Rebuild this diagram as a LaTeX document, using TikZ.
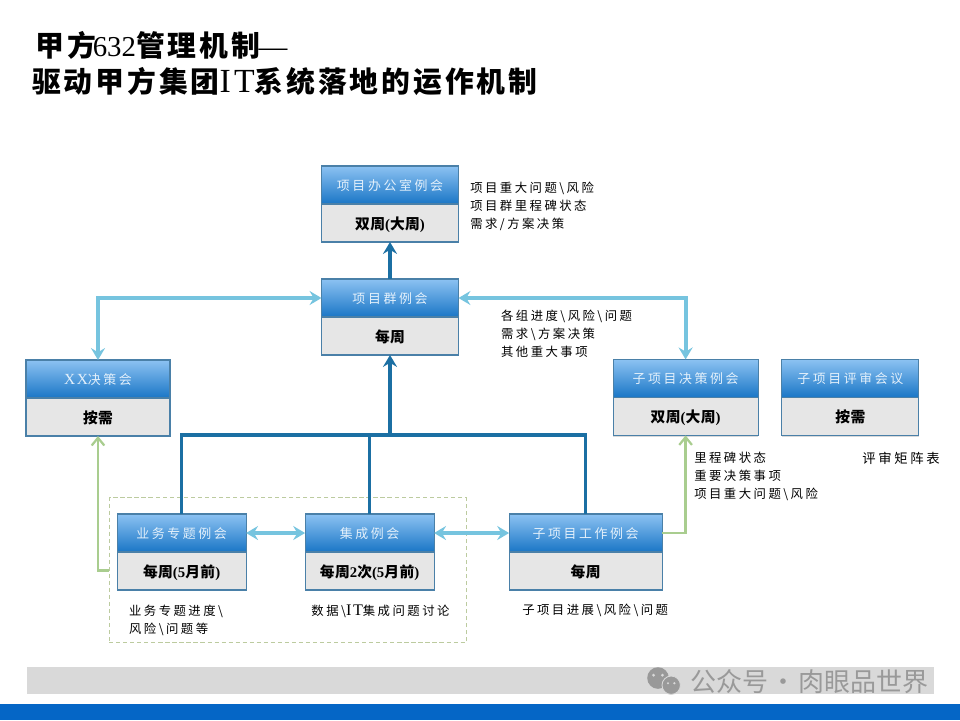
\documentclass[tikz,border=0pt]{standalone}
\usepackage{fontspec}
\setmainfont{Liberation Serif}
\newfontfamily\cjk[LetterSpace=20]{Noto Sans CJK SC}
\newfontfamily\cjkbold[LetterSpace=3]{Noto Sans CJK SC}
\newfontfamily\cjktitle[LetterSpace=10]{Noto Sans CJK SC}
\newfontfamily\cjkplain{Noto Sans CJK SC}
\newfontfamily\latspaced[LetterSpace=10]{Liberation Serif}
\newcommand{\zh}[1]{{\cjk #1}}
\newcommand{\zb}[1]{{\cjkbold #1}}
\newcommand{\zt}[1]{{\cjktitle #1}}
\newcommand{\zl}[2]{{\fontsize{#1}{#1}\selectfont\latspaced\mdseries #2}}
\usetikzlibrary{positioning, arrows.meta, shadows}
\definecolor{headtop}{HTML}{8CC2F2}
\definecolor{headmid}{HTML}{5AA3E4}
\definecolor{headbot}{HTML}{1A76C6}
\definecolor{edgeblue}{HTML}{4A80A8}
\definecolor{bodygrey}{HTML}{E6E6E6}
\definecolor{darkline}{HTML}{1B6FA3}
\definecolor{liteline}{HTML}{76C4DF}
\definecolor{greenline}{HTML}{A9CD8F}
\definecolor{dashgreen}{HTML}{BCCB9F}
\definecolor{headtext}{HTML}{E3F0FB}
\definecolor{bandgrey}{HTML}{D9D9D9}
\definecolor{bandblue}{HTML}{0566C6}
\definecolor{markgrey}{HTML}{999999}

\begin{document}
\begin{tikzpicture}[
    head/.style = {
      rectangle, draw = edgeblue, line width = 0.8pt, outer sep = 0pt, inner sep = 0pt,
      minimum height = 0.95cm, font = \fontsize{9.2}{11}\selectfont, text = headtext,
      text depth = 0pt, top color = headtop, middle color = headmid, bottom color = headbot
    },
    body/.style = {
      rectangle, draw = edgeblue, line width = 0.8pt, outer sep = 0pt, inner sep = 0pt,
      minimum height = 0.95cm, font = \fontsize{10.5}{12}\selectfont\bfseries, text depth = 0pt,
      fill = bodygrey, drop shadow = {shadow xshift = 0pt, shadow yshift = -1pt, opacity = .3}
    },
    note/.style = {
      anchor = west, align = left, inner sep = 0pt,
      font = \fontsize{8.8}{12.8}\selectfont
    },
    grpbox/.style = {
      rectangle, draw = dashgreen, line width = 0.8pt, outer sep = 0pt,
      dash pattern = on 3pt off 2pt
    },
    dark/.style = {draw = darkline, line width = 2.6pt},
    darkarr/.style = {dark, -{Stealth[length = 8.5pt, width = 10pt, inset = 3pt]}},
    litearr/.style = {
      draw = liteline, line width = 2.8pt,
      {Stealth[length = 8.5pt, width = 10pt, inset = 3pt]}-{Stealth[length = 8.5pt, width = 10pt, inset = 3pt]}
    },
    greenarr/.style = {draw = greenline, line width = 1.6pt, -{Straight Barb[length = 5.5pt, width = 9pt]}}
  ]
  \useasboundingbox (0,0) rectangle (24,-18);

  % ---- title ----
  \node[anchor = west, align = left, inner sep = 0pt, font = \fontsize{20.5}{25.6}\selectfont\bfseries] (title) at (0.8,-1.58)
    {\hspace*{2.5pt}\zt{甲方}\kern-2.5pt{\mdseries 632}\zt{管理机制}\kern-1pt{\mdseries ---}\\\zt{驱动甲方集团}\zl{24}{IT}\zt{系统落地的运作机制}};

  % ---- bands at the bottom ----
  \fill[bandgrey] (0.68,-16.68) rectangle (23.35,-17.35);
  \fill[bandblue] (0,-17.6) rectangle (24,-18);
  \fill[markgrey] (16.45,-16.95) circle (0.27);
  \fill[markgrey, draw = bandgrey, line width = 0.6pt] (16.78,-17.13) circle (0.23);
  \fill[bandgrey] (16.34,-16.88) circle (0.04) (16.56,-16.88) circle (0.04);
  \fill[bandgrey] (16.70,-17.08) circle (0.03) (16.86,-17.08) circle (0.03);
  \node[anchor = west, inner sep = 0pt, text = markgrey, font = \fontsize{18.5}{20}\cjkplain] (mark) at (17.25,-17.03) {公众号\kern1.5pt·\kern1.5pt肉眼品世界};

  % ---- dashed group ----
  \node[grpbox, minimum width = 8.925cm, minimum height = 3.625cm] (grp) at (7.19,-14.26) {};

  % ---- level 1 and 2 ----
  \node[head, minimum width = 3.425cm] (pmo) at (9.75,-4.625) {\zh{项目办公室例会}};
  \node[body, minimum width = 3.425cm, below = 0pt of pmo] (pmob) {\zb{双周}(\zb{大周})};
  \node[head, minimum width = 3.425cm] (prog) at (9.75,-7.45) {\zh{项目群例会}};
  \node[body, minimum width = 3.425cm, below = 0pt of prog] (progb) {\zb{每周}};

  % ---- decision meetings ----
  \node[head, minimum width = 3.6cm] (xx) at (2.45,-9.475) {\zl{11}{XX}\zh{决策会}};
  \node[body, minimum width = 3.6cm, below = 0pt of xx] (xxb) {\zb{按需}};
  \node[head, minimum width = 3.625cm] (dec) at (17.14,-9.46) {\zh{子项目决策例会}};
  \node[body, minimum width = 3.625cm, below = 0pt of dec] (decb) {\zb{双周}(\zb{大周})};
  \node[head, minimum width = 3.425cm] (rev) at (21.26,-9.46) {\zh{子项目评审会议}};
  \node[body, minimum width = 3.425cm, below = 0pt of rev] (revb) {\zb{按需}};

  % ---- working meetings ----
  \node[head, minimum width = 3.225cm] (biz) at (4.54,-13.325) {\zh{业务专题例会}};
  \node[body, minimum width = 3.225cm, below = 0pt of biz] (bizb) {\zb{每周}(5\zb{月前})};
  \node[head, minimum width = 3.225cm] (intg) at (9.24,-13.325) {\zh{集成例会}};
  \node[body, minimum width = 3.225cm, below = 0pt of intg] (intgb) {\zb{每周}2\zb{次}(5\zb{月前})};
  \node[head, minimum width = 3.825cm] (sub) at (14.64,-13.325) {\zh{子项目工作例会}};
  \node[body, minimum width = 3.825cm, below = 0pt of sub] (subb) {\zb{每周}};

  % ---- notes ----
  \node[note] (n1) at (11.75,-5.17) {\zh{项目重大问题\textbackslash 风险}\\\zh{项目群里程碑状态}\\\zh{需求/方案决策}};
  \node[note] (n2) at (12.52,-8.34) {\zh{各组进度\textbackslash 风险\textbackslash 问题}\\\zh{需求\textbackslash 方案决策}\\\zh{其他重大事项}};
  \node[note] (n3) at (17.35,-11.9) {\zh{里程碑状态}\\\zh{重要决策事项}\\\zh{项目重大问题\textbackslash 风险}};
  \node[note, font = \fontsize{9.5}{12.8}\selectfont] (n4) at (21.55,-11.46) {\zh{评审矩阵表}};
  \node[note] (n5) at (3.22,-15.5) {\zh{业务专题进度\textbackslash}\\\zh{风险\textbackslash 问题等}};
  \node[note] (n6) at (7.78,-15.28) {\zh{数据\textbackslash}\zl{11.5}{IT}\zh{集成问题讨论}};
  \node[note] (n7) at (13.05,-15.26) {\zh{子项目进展\textbackslash 风险\textbackslash 问题}};

  % ---- dark lines up to the group meeting ----
  \coordinate (bus) at (9.75,-10.87);
  \draw[dark] (biz.north) -- (biz.north |- bus) -- (sub.north |- bus) -- (sub.north);
  \draw[dark] (intg.north) -- (intg.north |- bus);
  \draw[darkarr] (bus) -- (progb.south);
  \draw[darkarr] (prog.north) -- (pmob.south);

  % ---- light two-way lines ----
  \draw[litearr] (xx.north) |- (prog.west);
  \draw[litearr] (prog.east) -| (dec.north);
  \draw[litearr] (biz.east) -- (intg.west);
  \draw[litearr] (intg.east) -- (sub.west);

  % ---- green lines ----
  \draw[greenarr] (grp.west) -| (xxb.south);
  \draw[greenarr] (sub.east) -| (decb.south);

\end{tikzpicture}
\end{document}
